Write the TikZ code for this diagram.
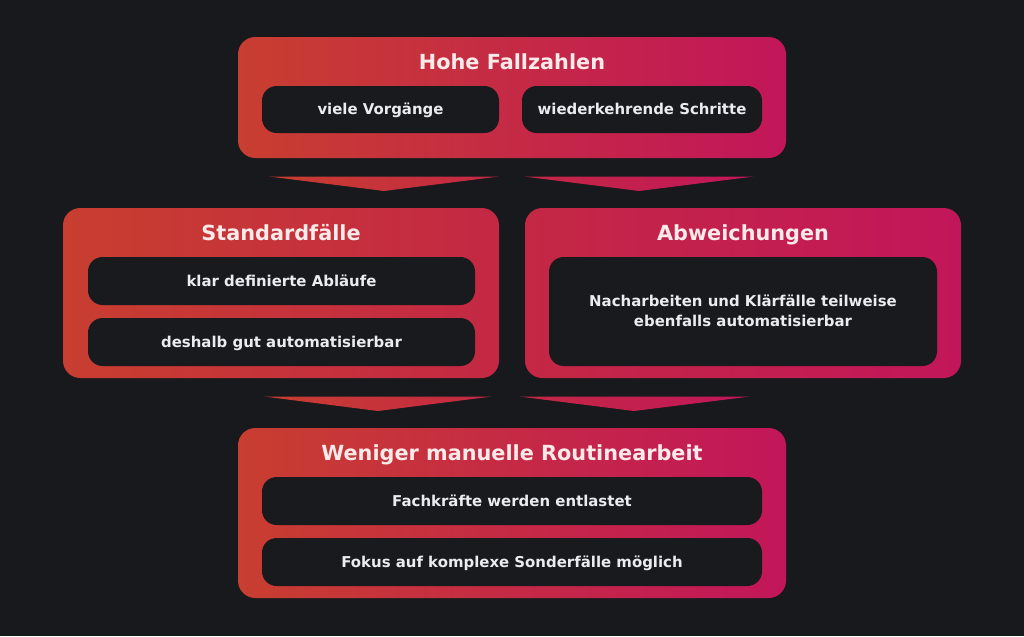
\documentclass[tikz,border=0pt]{standalone}
\usepackage{fontspec}
\setmainfont{DejaVu Sans}
\usetikzlibrary{fit}

\definecolor{bgColor}{RGB}{23,25,29}
\definecolor{innerColor}{RGB}{24,26,30}
\definecolor{leftColor}{RGB}{200,62,48}
\definecolor{midColor}{RGB}{196,40,68}
\definecolor{rightColor}{RGB}{194,22,90}
\definecolor{titleColor}{RGB}{250,234,234}
\definecolor{textColor}{RGB}{236,236,238}

\tikzset{
  outerBox/.style={rounded corners=13pt, inner sep=0pt},
  innerBox/.style={fill=innerColor, rounded corners=11pt, inner sep=0pt,
    minimum height=48*0.75pt, text height=8.2pt, text depth=0pt,
    text=textColor, align=center, font=\fontsize{11.2}{15}\selectfont\bfseries},
  boxW/.style={minimum width=#1*0.75pt},
  boxH/.style={minimum height=#1*0.75pt},
  titleText/.style={text=titleColor, inner sep=0pt, text height=11.4pt, text depth=0pt,
    font=\fontsize{15.6}{18}\selectfont\bfseries}
}

\begin{document}
\begin{tikzpicture}[x=0.75pt, y=-0.75pt]
  \fill[bgColor] (0,0) rectangle (1024,636);
  % Top block
  \node[outerBox, fit={(238,37) (786,158)}, left color=leftColor, right color=rightColor] (top) {};
  \node[titleText] (topTitle) at (512,62) {Hohe Fallzahlen};
  \node[innerBox, boxW=237, boxH=47] (topA) at (380.5,109.5) {viele Vorgänge};
  \node[innerBox, boxW=240, boxH=47] (topB) at (642,109.5) {wiederkehrende Schritte};
  % Arrows down
  \shade[left color=leftColor, right color=midColor] (269,176.5) -- (499,176.5) -- (384,191) -- cycle;
  \shade[left color=midColor, right color=rightColor] (524,176.5) -- (754,176.5) -- (639,191) -- cycle;
  % Middle blocks
  \node[outerBox, fit={(63,208) (499,378)}, left color=leftColor, right color=midColor] (std) {};
  \node[titleText] (stdTitle) at (281,233) {Standardfälle};
  \node[innerBox, boxW=387] (stdA) at (281.5,281) {klar definierte Abläufe};
  \node[innerBox, boxW=387] (stdB) at (281.5,342) {deshalb gut automatisierbar};
  \node[outerBox, fit={(525,208) (961,378)}, left color=midColor, right color=rightColor] (dev) {};
  \node[titleText] (devTitle) at (743,233) {Abweichungen};
  \node[innerBox, boxW=388, boxH=109, text height=23.2pt] (devA) at (743,311.5) {Nacharbeiten und Klärfälle teilweise\\ebenfalls automatisierbar};
  % Arrows down
  \shade[left color=leftColor, right color=midColor] (264,396.5) -- (492,396.5) -- (378,411) -- cycle;
  \shade[left color=midColor, right color=rightColor] (519,396.5) -- (750,396.5) -- (634,411) -- cycle;
  % Bottom block
  \node[outerBox, fit={(238,428) (786,598)}, left color=leftColor, right color=rightColor] (res) {};
  \node[titleText] (resTitle) at (512,453) {Weniger manuelle Routinearbeit};
  \node[innerBox, boxW=500] (resA) at (512,501) {Fachkräfte werden entlastet};
  \node[innerBox, boxW=500] (resB) at (512,562) {Fokus auf komplexe Sonderfälle möglich};
\end{tikzpicture}
\end{document}
